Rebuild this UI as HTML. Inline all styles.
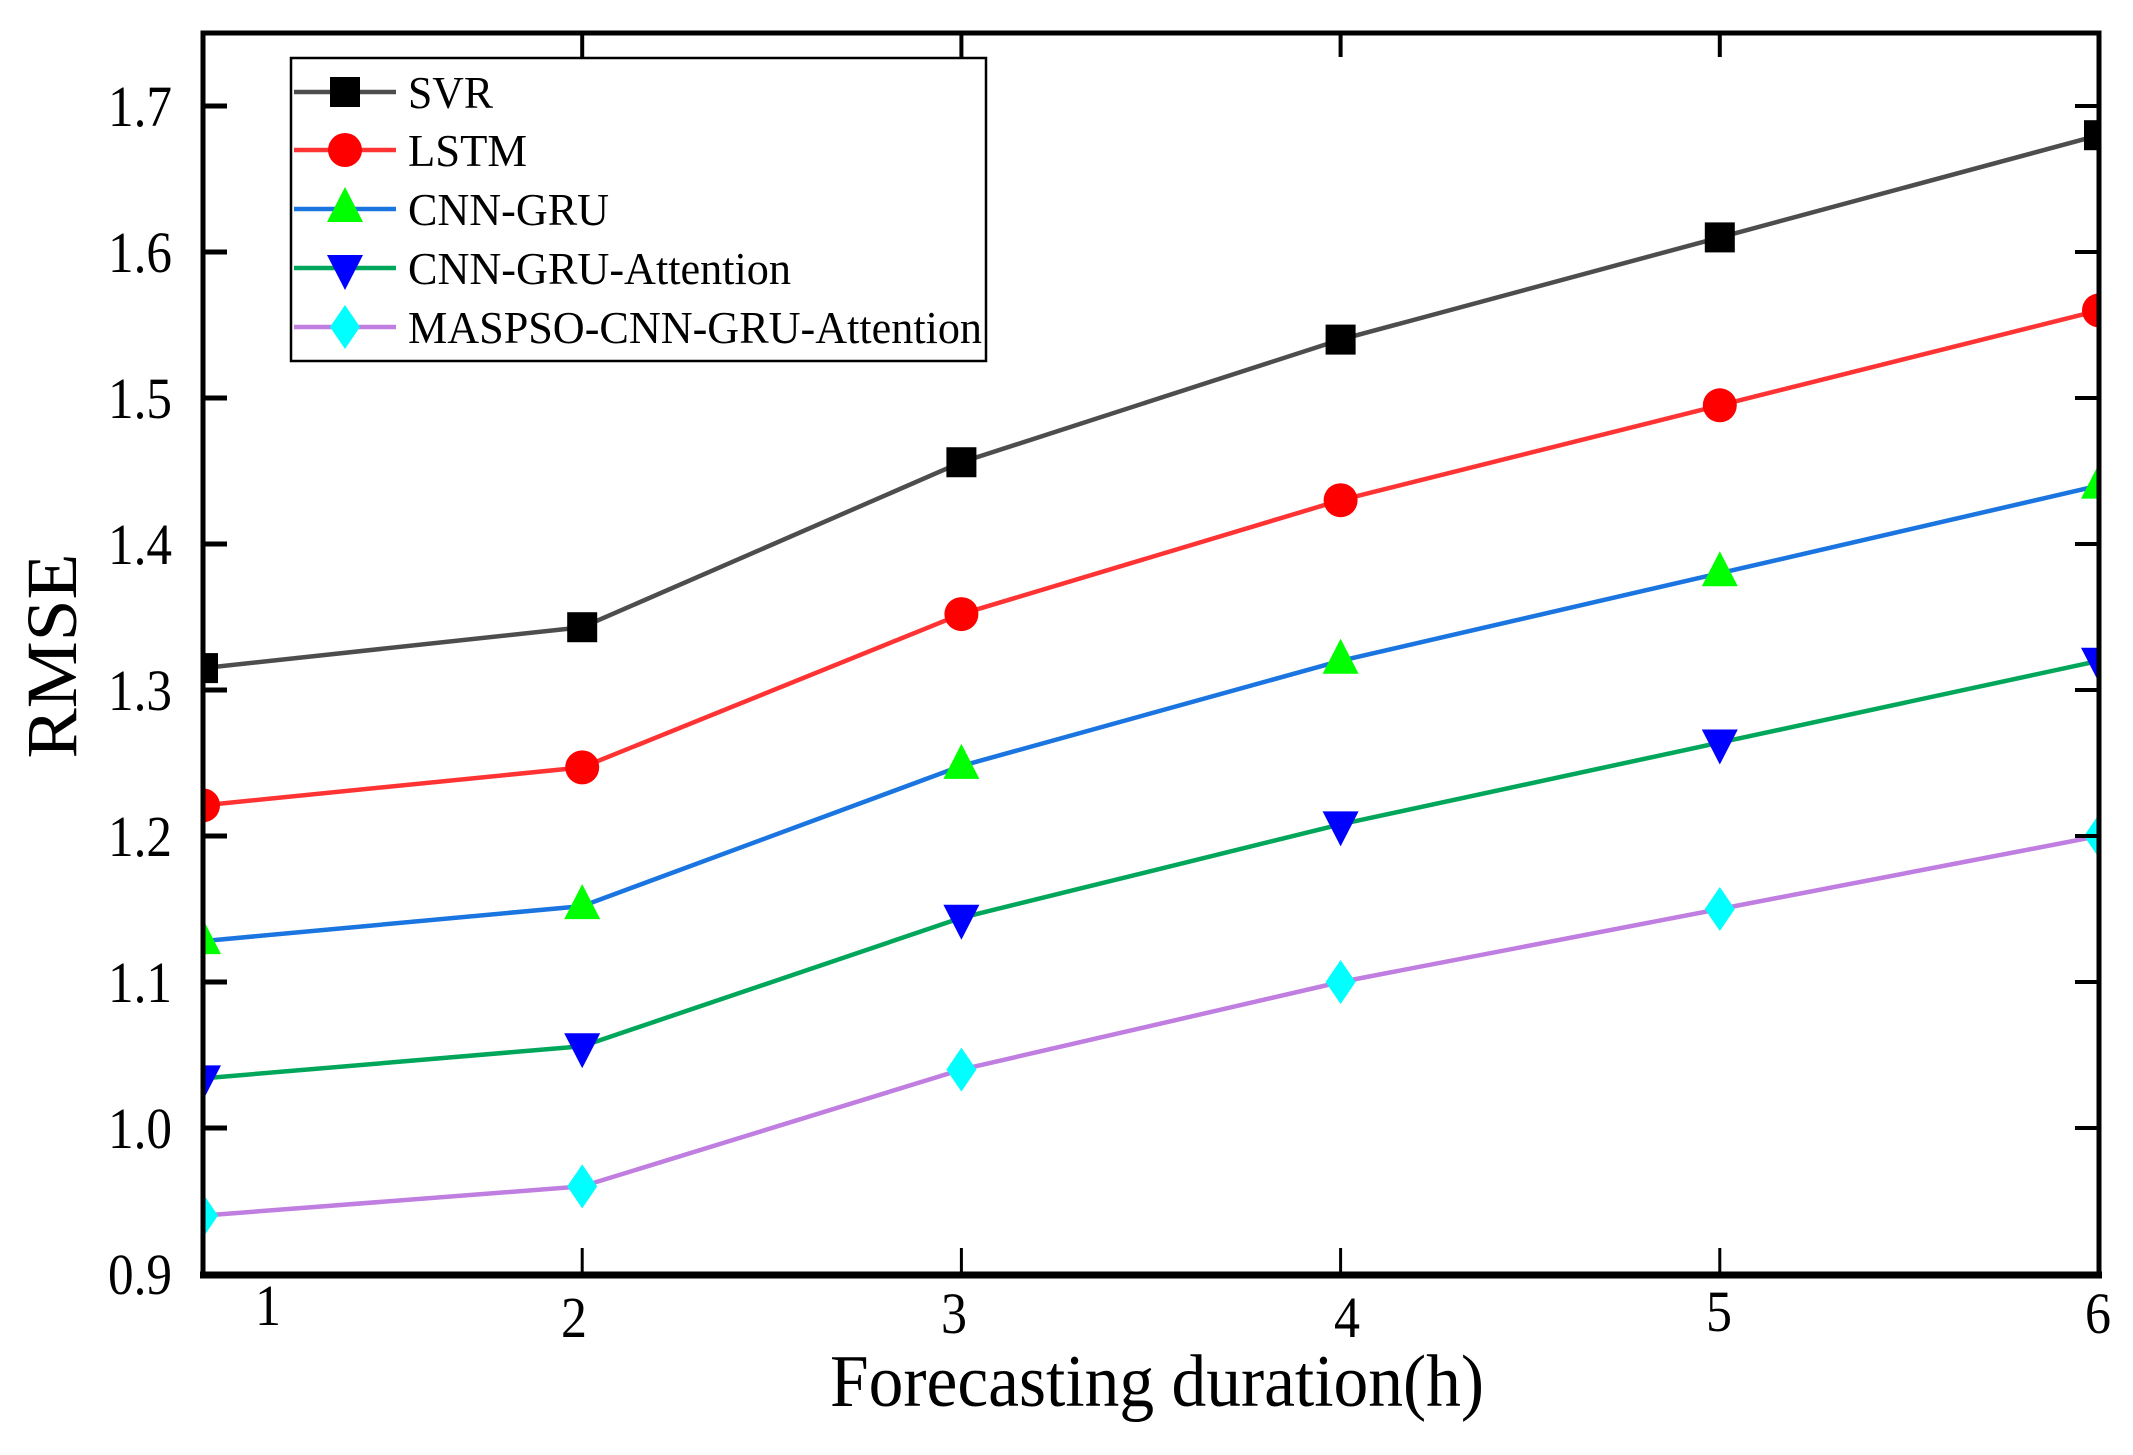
<!DOCTYPE html>
<html><head><meta charset="utf-8"><style>
html,body{margin:0;padding:0;background:#fff;}
svg{display:block;font-family:"Liberation Serif",serif;}
</style></head><body>
<svg id="chart" width="2133" height="1455" viewBox="0 0 2133 1455" xmlns="http://www.w3.org/2000/svg">
<defs><clipPath id="plotclip"><rect x="203" y="33" width="1896" height="1241"/></clipPath></defs>
<g id="grid"></g>
<g id="series" clip-path="url(#plotclip)"></g>
<g id="axes"></g>
<g id="legend"></g>
</svg>
<script>
const categories = [1, 2, 3, 4, 5, 6];
const xTickLabels = ["1", "2", "3", "4", "5", "6"];
const yTicks = [0.9, 1.0, 1.1, 1.2, 1.3, 1.4, 1.5, 1.6, 1.7];
const yTickLabels = ["0.9", "1.0", "1.1", "1.2", "1.3", "1.4", "1.5", "1.6", "1.7"];
const seriesNames = ["SVR", "LSTM", "CNN-GRU", "CNN-GRU-Attention", "MASPSO-CNN-GRU-Attention"];
const svrValues = [1.315, 1.343, 1.456, 1.540, 1.610, 1.680];
const lstmValues = [1.221, 1.247, 1.352, 1.430, 1.495, 1.560];
const cnnGruValues = [1.128, 1.152, 1.248, 1.320, 1.380, 1.440];
const cnnGruAttValues = [1.034, 1.056, 1.144, 1.208, 1.264, 1.320];
const maspsoValues = [0.940, 0.960, 1.040, 1.100, 1.150, 1.200];

const NS = "http://www.w3.org/2000/svg";
const X0 = 203, X1 = 2099, Y0 = 1274, Ytop = 33;
function xs(v){ return X0 + (v - 1) * (X1 - X0) / 5; }
function ys(v){ return Y0 - (v - 0.9) * 1460; }
function mk(tag, attrs, parent){ const e = document.createElementNS(NS, tag); for (const k in attrs) e.setAttribute(k, attrs[k]); parent.appendChild(e); return e; }

const styles = [
  {line:"#4d4d4d", fill:"#000000", shape:"square"},
  {line:"#ff3333", fill:"#ff0000", shape:"circle"},
  {line:"#1a75e0", fill:"#00ff00", shape:"tri-up"},
  {line:"#00a65a", fill:"#0000ff", shape:"tri-down"},
  {line:"#c07ee0", fill:"#00ffff", shape:"diamond"}
];
const allValues = [svrValues, lstmValues, cnnGruValues, cnnGruAttValues, maspsoValues];
const seriesKeys = ["svr", "lstm", "cnn-gru", "cnn-gru-attention", "maspso-cnn-gru-attention"];

function marker(parent, shape, cx, cy, fill){
  let e;
  if (shape === "square") e = mk("rect", {x:cx-15, y:cy-15, width:30, height:30, fill:fill}, parent);
  else if (shape === "circle") e = mk("circle", {cx:cx, cy:cy, r:17, fill:fill}, parent);
  else if (shape === "tri-up") e = mk("polygon", {points:`${cx},${cy-22} ${cx+18},${cy+13} ${cx-18},${cy+13}`, fill:fill}, parent);
  else if (shape === "tri-down") e = mk("polygon", {points:`${cx-18},${cy-13} ${cx+18},${cy-13} ${cx},${cy+22}`, fill:fill}, parent);
  else e = mk("polygon", {points:`${cx},${cy-22} ${cx+15},${cy} ${cx},${cy+22} ${cx-15},${cy}`, fill:fill}, parent);
  return e;
}

const sg = document.getElementById("series");
allValues.forEach((vals, si) => {
  const g = mk("g", {}, sg);
  
  
  const pts = vals.map((v, i) => xs(categories[i]) + "," + ys(v)).join(" ");
  const pl = mk("polyline", {points:pts, fill:"none", stroke:styles[si].line, "stroke-width":4.5, "stroke-linejoin":"round"}, g);
  
  
  vals.forEach((v, i) => {
    const m = marker(g, styles[si].shape, xs(categories[i]), ys(v), styles[si].fill);
    
    
  });
});

const ag = document.getElementById("axes");
const frame = mk("rect", {x:X0, y:Ytop, width:X1-X0, height:Y0-Ytop, fill:"none", stroke:"#000", "stroke-width":5}, ag);


const bottomAxis = mk("line", {x1:X0-3, x2:X1+3, y1:Y0+1, y2:Y0+1, stroke:"#000", "stroke-width":7}, ag);


yTicks.forEach((t, i) => {
  const y = ys(t);
  const tl = mk("line", {x1:X0, x2:X0+24, y1:y, y2:y, stroke:"#000", "stroke-width":5}, ag);
  
  
  const tr = mk("line", {x1:X1-24, x2:X1, y1:y, y2:y, stroke:"#000", "stroke-width":4}, ag);
  
  
  const lb = mk("text", {x:172, y:y+20, "text-anchor":"end", "font-size":58, textLength:64, lengthAdjust:"spacingAndGlyphs"}, ag);
  lb.textContent = yTickLabels[i];
  
  
});
const xLabelDx = [268, 574, 954, 1347, 1719, 2098];
const xLabelBase = [1325, 1337, 1333, 1337, 1331, 1333];
categories.forEach((c, i) => {
  const x = xs(c);
  if (i > 0 && i < categories.length - 1) {
    const tb = mk("line", {x1:x, x2:x, y1:Y0, y2:Y0-26, stroke:"#000", "stroke-width":3}, ag);
    
    
    const tt = mk("line", {x1:x, x2:x, y1:Ytop, y2:Ytop+24, stroke:"#000", "stroke-width":4}, ag);
    
    
  }
  const lb = mk("text", {x:xLabelDx[i], y:xLabelBase[i], "text-anchor":"middle", "font-size":58, textLength:26, lengthAdjust:"spacingAndGlyphs"}, ag);
  lb.textContent = xTickLabels[i];
  
  
});
const xt = mk("text", {x:830, y:1406, "font-size":74, textLength:654, lengthAdjust:"spacingAndGlyphs"}, ag);
xt.textContent = "Forecasting duration(h)";


const yt = mk("text", {x:0, y:0, "font-size":72, "text-anchor":"middle", textLength:205, lengthAdjust:"spacingAndGlyphs", transform:"translate(76,656) rotate(-90)"}, ag);
yt.textContent = "RMSE";



const lg = document.getElementById("legend");
const lbox = mk("rect", {x:291, y:58, width:695, height:303, fill:"#fff", stroke:"#000", "stroke-width":2.5}, lg);


const rowY = [92, 150, 209, 268, 327];
const textLens = [85, 119, 201, 383, 574];
seriesNames.forEach((n, i) => {
  const g = mk("g", {}, lg);
  
  
  mk("line", {x1:294, x2:396, y1:rowY[i], y2:rowY[i], stroke:styles[i].line, "stroke-width":4.5}, g);
  marker(g, styles[i].shape, 345, rowY[i], styles[i].fill);
  const t = mk("text", {x:408, y:rowY[i]+16, "font-size":46, textLength:textLens[i], lengthAdjust:"spacingAndGlyphs"}, g);
  t.textContent = n;
});
</script>
</body></html>
